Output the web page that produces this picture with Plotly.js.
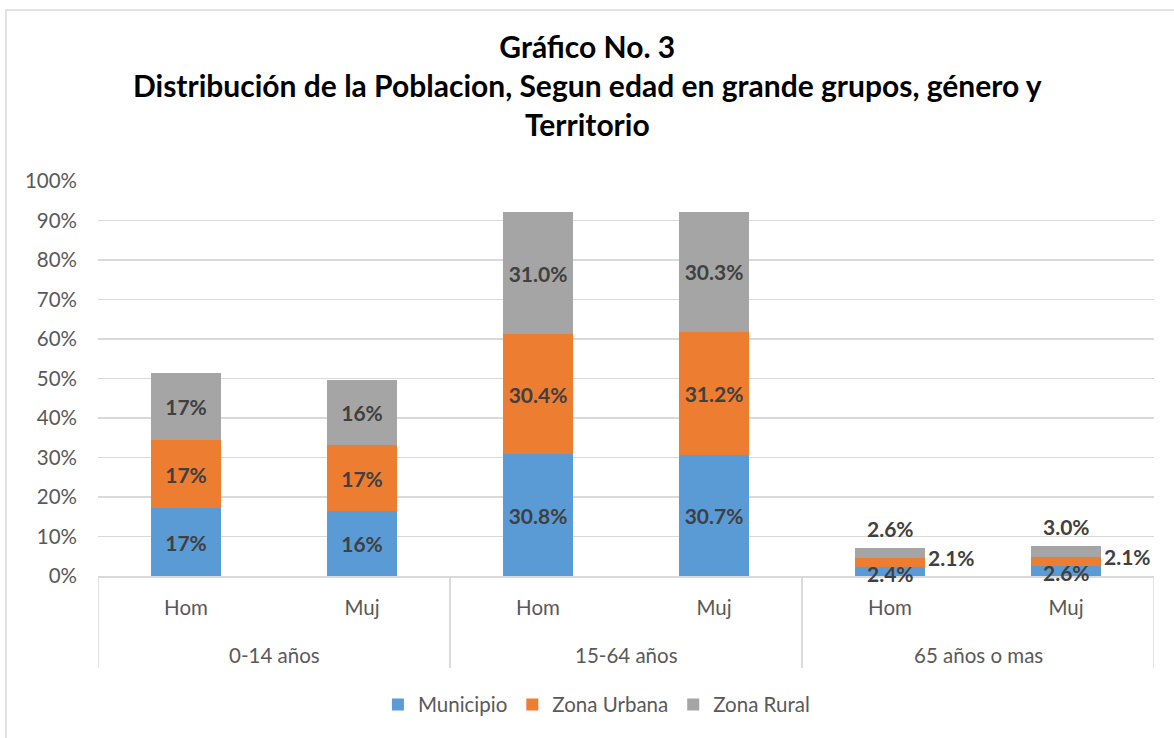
<!DOCTYPE html>
<html>
<head>
<meta charset="utf-8">
<script src="https://cdn.plot.ly/plotly-3.0.1.min.js"></script>
<style>html,body{margin:0;padding:0;background:#fff;}#chart{width:1174px;height:738px;}</style>
</head>
<body>
<div id="chart"></div>
<script>
// ---- data ----
const groups = ['0-14 años','0-14 años','15-64 años','15-64 años','65 años o mas','65 años o mas'];
const sexes = ['Hom','Muj','Hom','Muj','Hom','Muj'];
const municipio = [17.1, 16.4, 30.8, 30.7, 2.4, 2.6];
const urbana = [17.4, 16.8, 30.4, 31.2, 2.1, 2.1];
const rural = [16.9, 16.4, 31.0, 30.3, 2.6, 3.0];
const decimals = [0, 0, 1, 1, 1, 1];
const smallBars = [false, false, false, false, true, true];
const seriesNames = ['Municipio', 'Zona Urbana', 'Zona Rural'];
const colors = ['#5b9bd5', '#ed7d31', '#a5a5a5'];
const titleLines = ['Gráfico No. 3', 'Distribución de la Poblacion, Segun edad en grande grupos, género y', 'Territorio'];

const FONT = 'Lato, "Open Sans", sans-serif';
const labelFont = {family: FONT, size: 21, color: '#404040', weight: 'bold'};
const axisFont = {family: FONT, size: 20.5, color: '#595959'};
const fmt = (v, i) => v.toFixed(decimals[i]) + '%';

// category positions on the x axis (one slot per group/sex pair)
const pos = sexes.map((_, i) => i);

const series = [municipio, urbana, rural];
const traces = series.map((vals, s) => ({
  type: 'bar',
  name: seriesNames[s],
  x: pos,
  y: vals,
  customdata: groups.map((g, i) => g + ' ' + sexes[i]),
  hovertemplate: '%{customdata}: %{y}%<extra>' + seriesNames[s] + '</extra>',
  marker: {color: colors[s]},
  text: vals.map((v, i) => smallBars[i] ? '' : fmt(v, i)),
  textposition: 'inside',
  insidetextanchor: 'middle',
  textangle: 0,
  constraintext: 'none',
  insidetextfont: labelFont
}));

const L = 98, R = 20, T = 181, B = 162;
const pw = 1174 - L - R, ph = 738 - T - B;

const annotations = [];
// labels for the small bars (placed around the bars like the original)
smallBars.forEach((small, i) => {
  if (!small) return;
  const m = municipio[i], u = urbana[i], r = rural[i];
  annotations.push({x: pos[i], y: m / 2, xref: 'x', yref: 'y', text: fmt(m, i), showarrow: false,
    font: labelFont, xanchor: 'center', yanchor: 'middle', yshift: -2});
  annotations.push({x: pos[i], y: m + u / 2, xref: 'x', yref: 'y', text: fmt(u, i), showarrow: false,
    font: labelFont, xanchor: 'left', yanchor: 'middle', xshift: 36, yshift: 5});
  annotations.push({x: pos[i], y: m + u + r, xref: 'x', yref: 'y', text: fmt(r, i), showarrow: false,
    font: labelFont, xanchor: 'center', yanchor: 'bottom', yshift: 5});
});

// group labels and dividers of the two-level category axis
const groupNames = [...new Set(groups)];
const shapes = [];
groupNames.forEach((g) => {
  const idx = pos.filter((p, i) => groups[i] === g);
  const lo = Math.min(...idx), hi = Math.max(...idx);
  annotations.push({x: (lo + hi) / 2, y: 0, xref: 'x', yref: 'paper', text: g, showarrow: false,
    font: axisFont, xanchor: 'center', yanchor: 'middle', yshift: -79});
  [lo - 0.5, hi + 0.5].forEach((xb) => shapes.push({
    type: 'line', xref: 'x', yref: 'paper', x0: xb, x1: xb, y0: 0, y1: -92 / ph,
    line: {color: '#d9d9d9', width: 1.5}
  }));
});

// chart title
annotations.push({
  xref: 'paper', yref: 'paper', x: (587 - L) / pw, y: (T + ph - 26) / ph,
  xanchor: 'center', yanchor: 'top', showarrow: false, align: 'center',
  text: titleLines.join('<br>'),
  font: {family: FONT, size: 30, color: '#000000', weight: 'bold'}
});

// outer chart border
shapes.push({
  type: 'rect', xref: 'paper', yref: 'paper',
  x0: (6 - L) / pw, x1: (1190 - L) / pw,
  y0: (T + ph - 760) / ph, y1: (T + ph - 10) / ph,
  line: {color: '#d9d9d9', width: 1.5}, fillcolor: 'rgba(0,0,0,0)', layer: 'below'
});

const layout = {
  width: 1174, height: 738,
  margin: {l: L, r: R, t: T, b: B, pad: 0},
  paper_bgcolor: '#ffffff', plot_bgcolor: '#ffffff',
  font: {family: FONT, color: '#595959'},
  barmode: 'stack',
  bargap: 0.6,
  showlegend: true,
  legend: {
    orientation: 'h', x: 0.472, xanchor: 'center', y: -0.275, yanchor: 'top',
    font: {family: FONT, size: 20.5, color: '#595959'},
    traceorder: 'normal', itemwidth: 30
  },
  xaxis: {
    range: [-0.5, sexes.length - 0.5],
    tickmode: 'array', tickvals: pos, ticktext: sexes,
    tickfont: axisFont,
    showline: true, linecolor: '#d9d9d9', linewidth: 1.5,
    ticks: '', showgrid: false, zeroline: false, fixedrange: true, ticklabelstandoff: 13
  },
  yaxis: {
    range: [0, 100], dtick: 10, ticksuffix: '%',
    tickfont: axisFont,
    showgrid: true, gridcolor: '#d9d9d9', gridwidth: 1.5,
    zeroline: false, showline: false, ticks: '', ticklabelstandoff: 20,
    fixedrange: true
  },
  annotations: annotations,
  shapes: shapes
};

Plotly.newPlot('chart', traces, layout, {displayModeBar: false, staticPlot: true});
</script>
</body>
</html>
